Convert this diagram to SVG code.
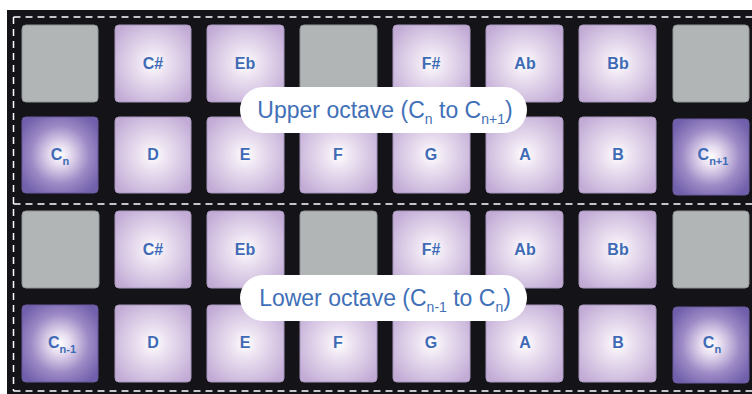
<svg xmlns="http://www.w3.org/2000/svg" width="752" height="394" viewBox="0 0 752 394">
<defs>
<radialGradient id="gl" cx="50%" cy="50%" r="62%">
<stop offset="0" stop-color="#ffffff"/>
<stop offset="0.3" stop-color="#ece2f1"/>
<stop offset="1" stop-color="#c2acd6"/>
</radialGradient>
<radialGradient id="gd" cx="50%" cy="50%" r="62%">
<stop offset="0" stop-color="#ffffff"/>
<stop offset="0.22" stop-color="#e6dcef"/>
<stop offset="0.62" stop-color="#9c89c5"/>
<stop offset="1" stop-color="#705fab"/>
</radialGradient>
</defs>
<style>
.l{fill:url(#gl);stroke:#a897bd;stroke-width:1}
.d{fill:url(#gd);stroke:#6a5aa0;stroke-width:1}
.g{fill:#b1b5b5;stroke:#8f9494;stroke-width:1}
.t{font-family:"Liberation Sans",Arial,sans-serif;font-weight:bold;font-size:16px;fill:#3f6bb6;text-anchor:middle}
.s{font-size:11px}
.dash{stroke:#ffffff;stroke-width:1.5;stroke-dasharray:7 5;fill:none}
.pill{fill:#ffffff}
.pt{font-family:"Liberation Sans",Arial,sans-serif;font-size:23px;fill:#4170b8;text-anchor:middle}
.ps{font-size:14px}
</style>
<rect x="7" y="10" width="745" height="384" fill="#141318"/>
<g id="dashes">
<line class="dash" x1="13.5" y1="17" x2="752" y2="17"/>
<line class="dash" x1="13.5" y1="204" x2="752" y2="204"/>
<line class="dash" x1="13.5" y1="391" x2="752" y2="391"/>
<line class="dash" x1="13.5" y1="17" x2="13.5" y2="391"/>
</g>
<g id="upper">
<g id="u-r1c0"><rect class="g" x="22" y="25" width="76" height="77" rx="4"/></g>
<g id="u-r1c1"><rect class="l" x="115" y="25" width="76" height="77" rx="4"/><text class="t" x="153" y="69">C#</text></g>
<g id="u-r1c2"><rect class="l" x="207" y="25" width="77" height="77" rx="4"/><text class="t" x="245" y="69">Eb</text></g>
<g id="u-r1c3"><rect class="g" x="300" y="25" width="77" height="77" rx="4"/></g>
<g id="u-r1c4"><rect class="l" x="393" y="25" width="77" height="77" rx="4"/><text class="t" x="431" y="69">F#</text></g>
<g id="u-r1c5"><rect class="l" x="486" y="25" width="77" height="77" rx="4"/><text class="t" x="525" y="69">Ab</text></g>
<g id="u-r1c6"><rect class="l" x="579" y="25" width="77" height="77" rx="4"/><text class="t" x="618" y="69">Bb</text></g>
<g id="u-r1c7"><rect class="g" x="673" y="25" width="76" height="77" rx="4"/></g>
<g id="u-r2c0"><rect class="d" x="22" y="117" width="76" height="76" rx="4"/><text class="t" x="60" y="160">C<tspan class="s" dy="5">n</tspan></text></g>
<g id="u-r2c1"><rect class="l" x="115" y="117" width="76" height="76" rx="4"/><text class="t" x="153" y="160">D</text></g>
<g id="u-r2c2"><rect class="l" x="207" y="117" width="77" height="76" rx="4"/><text class="t" x="245" y="160">E</text></g>
<g id="u-r2c3"><rect class="l" x="300" y="117" width="77" height="76" rx="4"/><text class="t" x="338" y="160">F</text></g>
<g id="u-r2c4"><rect class="l" x="393" y="117" width="77" height="76" rx="4"/><text class="t" x="431" y="160">G</text></g>
<g id="u-r2c5"><rect class="l" x="486" y="117" width="77" height="76" rx="4"/><text class="t" x="525" y="160">A</text></g>
<g id="u-r2c6"><rect class="l" x="579" y="117" width="77" height="76" rx="4"/><text class="t" x="618" y="160">B</text></g>
<g id="u-r2c7"><rect class="d" x="673" y="119" width="76" height="76" rx="4"/><text class="t" x="713" y="160">C<tspan class="s" dy="5">n+1</tspan></text></g>
</g>
<g id="lower">
<g id="l-r1c0"><rect class="g" x="22" y="211" width="77" height="77" rx="4"/></g>
<g id="l-r1c1"><rect class="l" x="115" y="211" width="76" height="77" rx="4"/><text class="t" x="153" y="255">C#</text></g>
<g id="l-r1c2"><rect class="l" x="207" y="211" width="77" height="77" rx="4"/><text class="t" x="245" y="255">Eb</text></g>
<g id="l-r1c3"><rect class="g" x="300" y="211" width="77" height="77" rx="4"/></g>
<g id="l-r1c4"><rect class="l" x="393" y="211" width="77" height="77" rx="4"/><text class="t" x="431" y="255">F#</text></g>
<g id="l-r1c5"><rect class="l" x="486" y="211" width="77" height="77" rx="4"/><text class="t" x="525" y="255">Ab</text></g>
<g id="l-r1c6"><rect class="l" x="579" y="211" width="77" height="77" rx="4"/><text class="t" x="618" y="255">Bb</text></g>
<g id="l-r1c7"><rect class="g" x="673" y="211" width="76" height="77" rx="4"/></g>
<g id="l-r2c0"><rect class="d" x="22" y="305" width="76" height="77" rx="4"/><text class="t" x="62" y="348">C<tspan class="s" dy="5">n-1</tspan></text></g>
<g id="l-r2c1"><rect class="l" x="115" y="305" width="76" height="77" rx="4"/><text class="t" x="153" y="348">D</text></g>
<g id="l-r2c2"><rect class="l" x="207" y="305" width="77" height="77" rx="4"/><text class="t" x="245" y="348">E</text></g>
<g id="l-r2c3"><rect class="l" x="300" y="305" width="77" height="77" rx="4"/><text class="t" x="338" y="348">F</text></g>
<g id="l-r2c4"><rect class="l" x="393" y="305" width="77" height="77" rx="4"/><text class="t" x="431" y="348">G</text></g>
<g id="l-r2c5"><rect class="l" x="486" y="305" width="77" height="77" rx="4"/><text class="t" x="525" y="348">A</text></g>
<g id="l-r2c6"><rect class="l" x="579" y="305" width="77" height="77" rx="4"/><text class="t" x="618" y="348">B</text></g>
<g id="l-r2c7"><rect class="d" x="673" y="307" width="76" height="76" rx="4"/><text class="t" x="712" y="348">C<tspan class="s" dy="5">n</tspan></text></g>
</g>
<g id="label-upper">
<rect class="pill" x="240" y="87" width="287" height="46" rx="23"/>
<text class="pt" x="385" y="118">Upper octave (C<tspan class="ps" dy="6">n</tspan><tspan dy="-6"> to C</tspan><tspan class="ps" dy="6">n+1</tspan><tspan dy="-6">)</tspan></text>
</g>
<g id="label-lower">
<rect class="pill" x="240" y="275" width="287" height="46" rx="23"/>
<text class="pt" x="385" y="306">Lower octave (C<tspan class="ps" dy="6">n-1</tspan><tspan dy="-6"> to C</tspan><tspan class="ps" dy="6">n</tspan><tspan dy="-6">)</tspan></text>
</g>
</svg>
